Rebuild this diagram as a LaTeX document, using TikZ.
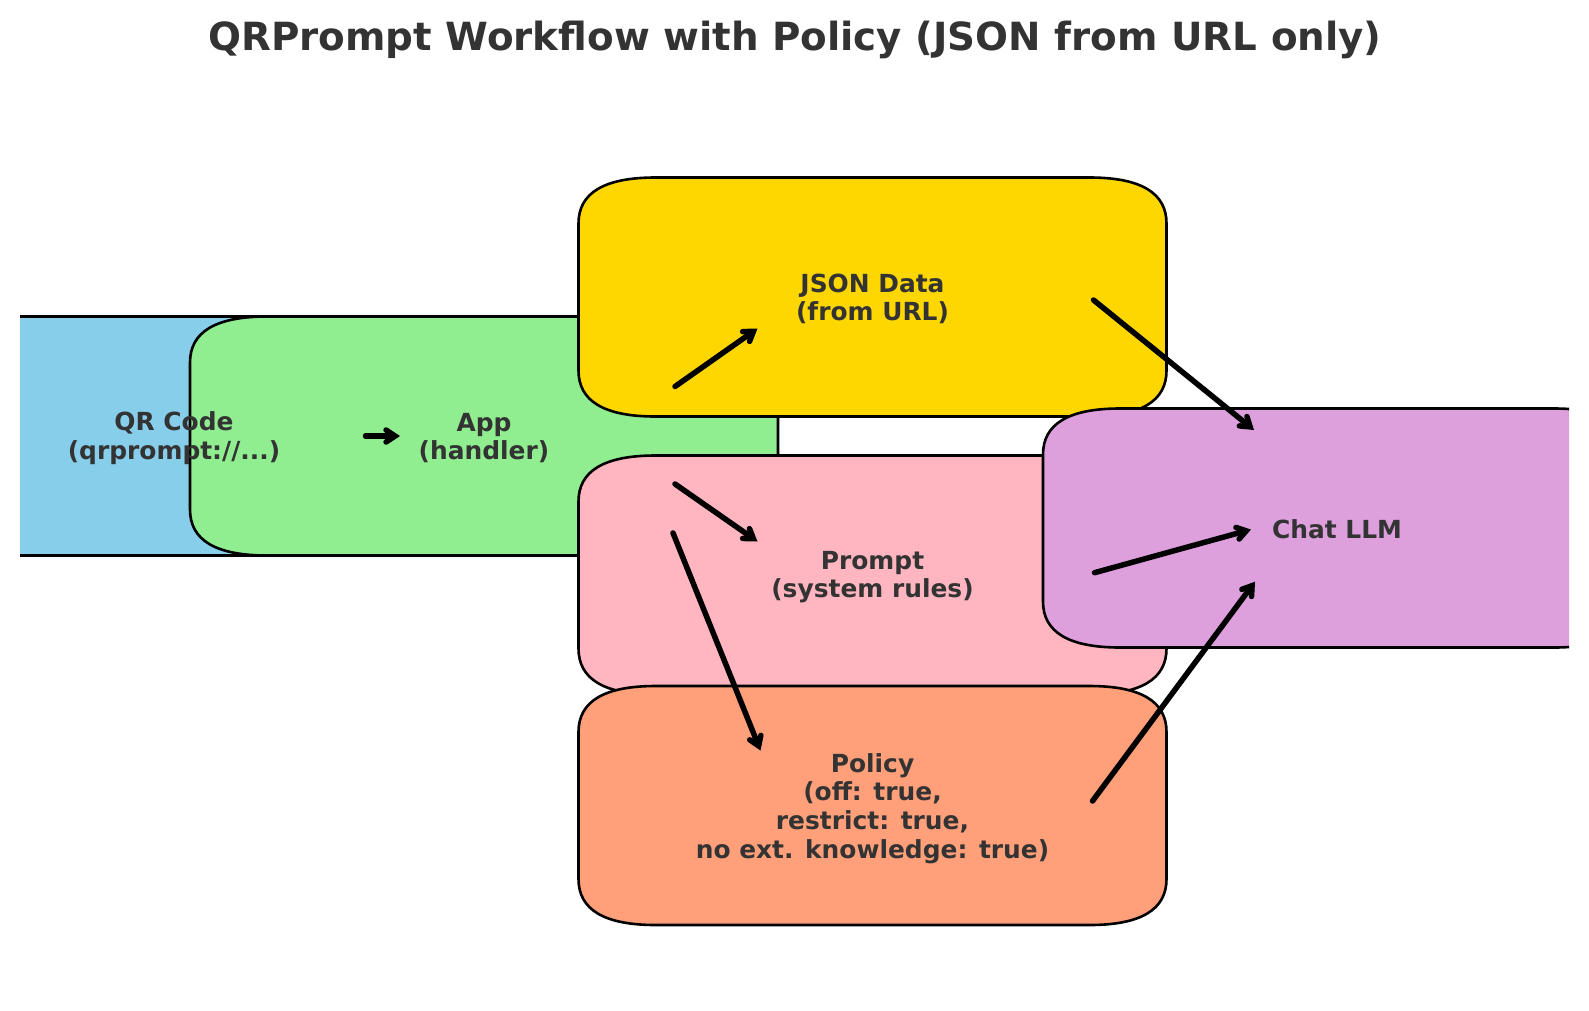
\documentclass[tikz,border=0pt]{standalone}
\usepackage{fontspec}
\setmainfont{DejaVu Sans}
\usetikzlibrary{arrows.meta}
\definecolor{txtgray}{HTML}{333333}
\definecolor{cqr}{HTML}{87CEEB}
\definecolor{capp}{HTML}{90EE90}
\definecolor{cjson}{HTML}{FFD700}
\definecolor{cprompt}{HTML}{FFB6C1}
\definecolor{cpolicy}{HTML}{FFA07A}
\definecolor{cchat}{HTML}{DDA0DD}
\newcommand\lblfont{\fontsize{24.9}{28.6}\selectfont\bfseries}
\newcommand\ttlfont{\fontsize{38.8}{46}\selectfont\bfseries}
% rounded box with elliptic (quadratic) corners: cx, cy (y down), w, h, fill
\newcommand\qrbox[5]{%
  \pgfmathsetmacro\xa{#1-#3/2}\pgfmathsetmacro\xb{#1+#3/2}%
  \pgfmathsetmacro\ya{-#2+#4/2}\pgfmathsetmacro\yb{-#2-#4/2}%
  \pgfmathsetmacro\xar{\xa+77}\pgfmathsetmacro\xbr{\xb-77}%
  \pgfmathsetmacro\xac{\xa+77/3}\pgfmathsetmacro\xbc{\xb-77/3}%
  \pgfmathsetmacro\yar{\ya-46}\pgfmathsetmacro\ybr{\yb+46}%
  \pgfmathsetmacro\yac{\ya-46/3}\pgfmathsetmacro\ybc{\yb+46/3}%
  \filldraw[boxline,fill=#5] (\xar,\ya) -- (\xbr,\ya)
    .. controls (\xbc,\ya) and (\xb,\yac) .. (\xb,\yar) -- (\xb,\ybr)
    .. controls (\xb,\ybc) and (\xbc,\yb) .. (\xbr,\yb) -- (\xar,\yb)
    .. controls (\xac,\yb) and (\xa,\ybc) .. (\xa,\ybr) -- (\xa,\yar)
    .. controls (\xa,\yac) and (\xac,\ya) .. (\xar,\ya) -- cycle;
}
\tikzset{
  boxline/.style={draw=black,line width=2.6pt,line join=round},
  lbl/.style={text=txtgray,align=center,font=\lblfont,inner sep=0pt},
  flow/.style={draw=black,line width=5.5pt,line cap=round,
    -{Straight Barb[length=9pt,width=12pt,line cap=round,line join=miter]}}
}
\begin{document}
\begin{tikzpicture}[x=1pt,y=1pt]
\useasboundingbox (0,0) rectangle (1589,-1010);
\fill[white] (0,0) rectangle (1589,-1010);
\node[text=txtgray,font=\ttlfont,inner sep=0pt] (title) at (795,-40)
  {QRPrompt Workflow with Policy (JSON from URL only)};
\begin{scope}
\clip (20,0) rectangle (1569,-1010);
\qrbox{174}{436}{588}{239}{cqr}
\qrbox{484}{436}{588}{239}{capp}
\qrbox{872.5}{297}{588}{239}{cjson}
\qrbox{872.5}{575}{588}{239}{cprompt}
\qrbox{872.5}{805.5}{588}{239}{cpolicy}
\qrbox{1337}{528}{588}{239}{cchat}
\end{scope}
\node[lbl] (qr) at (174,-438) {QR Code\\(qrprompt://...)};
\node[lbl] (app) at (484,-438) {App\\(handler)};
\node[lbl] (json) at (872.5,-299) {JSON Data\\(from URL)};
\node[lbl] (prompt) at (872.5,-577) {Prompt\\(system rules)};
\node[lbl] (policy) at (872.5,-808.5) {Policy\\(off: true,\\restrict: true,\\no ext. knowledge: true)};
\node[lbl] (chat) at (1337,-529.5) {Chat LLM};
% arrow end points
\coordinate (qrA) at (365.5,-436);
\coordinate (appA) at (400,-436);
\coordinate (appJ) at (675,-386.5);
\coordinate (jsonA) at (757.5,-328.5);
\coordinate (appP) at (675,-484);
\coordinate (promptA) at (757.5,-541.5);
\coordinate (appY) at (673,-533);
\coordinate (policyA) at (760.5,-750.5);
\coordinate (jsonC) at (1093.5,-300);
\coordinate (chatJ) at (1254,-430);
\coordinate (promptC) at (1094.5,-572.7);
\coordinate (chatP) at (1251,-529.5);
\coordinate (policyC) at (1092.5,-801);
\coordinate (chatY) at (1255,-581.7);
\draw[flow] (qrA) -- (appA);
\draw[flow] (appJ) -- (jsonA);
\draw[flow] (appP) -- (promptA);
\draw[flow] (appY) -- (policyA);
\draw[flow] (jsonC) -- (chatJ);
\draw[flow] (promptC) -- (chatP);
\draw[flow] (policyC) -- (chatY);
\end{tikzpicture}
\end{document}
